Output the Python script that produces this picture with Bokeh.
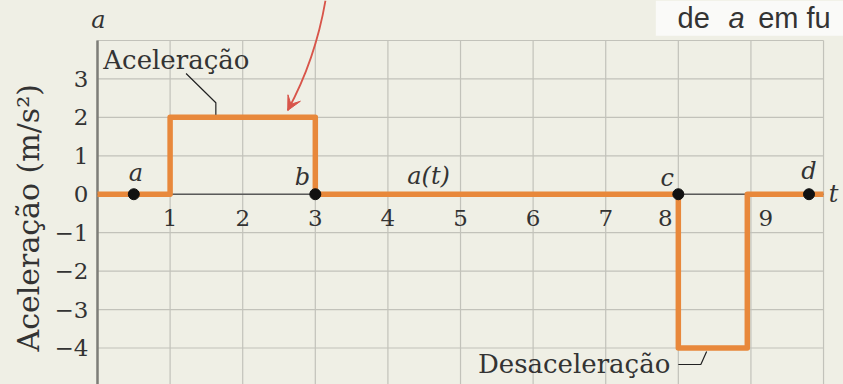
from bokeh.plotting import figure
from bokeh.models import Range1d, FixedTicker, Arrow, VeeHead
from bokeh.core.properties import value
from bokeh.embed import file_html
from bokeh.resources import INLINE

# ---------------- data ----------------
t_values = [0, 1, 1, 3, 3, 8, 8, 8.95, 8.95, 10]
a_values = [0, 0, 2, 2, 0, 0, -4, -4, 0, 0]

point_names = ["a", "b", "c", "d"]
point_t = [0.5, 3, 8, 9.8]
point_a = [0, 0, 0, 0]

t_ticks = [1, 2, 3, 4, 5, 6, 7, 8, 9]
t_tick_labels = ["1", "2", "3", "4", "5", "6", "7", "8", "9"]
a_ticks = [-4, -3, -2, -1, 0, 1, 2, 3]
a_tick_labels = ["\u22124", "\u22123", "\u22122", "\u22121", "0", "1", "2", "3"]

t_grid = list(range(0, 11))
a_grid = list(range(-4, 5))

# ---------------- style ----------------
BG = "#efefe5"
GRID = "#c2c2ba"
ORANGE = "#e8883b"
RED = "#d8554a"
INK = "#333333"
SERIF = value("DejaVu Serif")
SANS = value("Liberation Sans")

p = figure(width=843, height=384, output_backend="svg", toolbar_location=None,
           x_range=Range1d(-0.0964, 10.275), y_range=Range1d(-4.95, 5.04),
           min_border_left=90, min_border_right=0, min_border_top=0, min_border_bottom=0,
           x_axis_location=None, background_fill_color=BG, border_fill_color=BG,
           outline_line_color=None,
           title="Aceleração (m/s²)", title_location="left")
p.grid.visible = False

# rotated y-axis title
p.title.text_font = "DejaVu Serif"
p.title.text_font_size = "30px"
p.title.text_font_style = "normal"
p.title.text_color = INK
p.title.align = "left"
p.title.offset = 33
p.title.standoff = 12

yax = p.yaxis[0]
yax.ticker = FixedTicker(ticks=a_ticks)
yax.major_label_overrides = dict(zip(a_ticks, a_tick_labels))
yax.axis_line_color = None
yax.major_tick_line_color = None
yax.minor_tick_line_color = None
yax.major_tick_out = 0
yax.major_label_standoff = 2
yax.major_label_text_font = "DejaVu Serif"
yax.major_label_text_font_size = "23px"
yax.major_label_text_color = INK

# grid
p.segment(x0=t_grid, y0=[-4.95] * len(t_grid), x1=t_grid, y1=[4] * len(t_grid),
          line_color=GRID, line_width=1.2)
p.segment(x0=[0] * len(a_grid), y0=a_grid, x1=[10] * len(a_grid), y1=a_grid,
          line_color=GRID, line_width=1.2)
# vertical axis line at t = 0 and zero line a = 0
p.segment(x0=[0], y0=[-4.95], x1=[0], y1=[4], line_color="#7d7d78", line_width=2.5)
p.segment(x0=[0], y0=[0], x1=[10], y1=[0], line_color="#5a5a5a", line_width=1.5)

# a(t) curve
p.line(t_values, a_values, line_color=ORANGE, line_width=5.5, line_join="round")

# points
p.scatter(point_t, point_a, size=11, color="#111111")
p.text(x=point_t, y=point_a, text=point_names, x_offset=[2, -13, -11, 0], y_offset=[-21, -17, -16, -23],
       text_font=SERIF, text_font_style="italic", text_font_size="24px", text_color=INK,
       text_align="center", text_baseline="middle")
p.text(x=[4.56], y=[0], text=["a(t)"], y_offset=[-18],
       text_font=SERIF, text_font_style="italic", text_font_size="24px", text_color=INK,
       text_align="center", text_baseline="middle")

# x tick labels on the zero line
p.text(x=t_ticks, y=[0] * len(t_ticks), text=t_tick_labels,
       x_offset=[0, 0, 0, 0, 0, 0, 0, -13, 15], y_offset=[24] * len(t_ticks),
       text_font=SERIF, text_font_size="23px", text_color=INK,
       text_align="center", text_baseline="middle")

# axis symbols
p.text(x=[0], y=[4], text=["a"], x_offset=[1], y_offset=[-20],
       text_font=SERIF, text_font_style="italic", text_font_size="24px", text_color=INK,
       text_align="center", text_baseline="middle")
p.text(x=[10], y=[0], text=["t"], x_offset=[10], y_offset=[0],
       text_font=SERIF, text_font_style="italic", text_font_size="24px", text_color=INK,
       text_align="center", text_baseline="middle")

# callouts
p.text(x=[0.08], y=[3.49], text=["Aceleração"], text_font=SERIF, text_font_size="26px",
       text_color=INK, text_align="left", text_baseline="middle")
p.line([1.22, 1.63, 1.63], [3.14, 2.38, 2.07], line_color="#222222", line_width=1.2)
p.text(x=[7.89], y=[-4.42], text=["Desaceleração"], text_font=SERIF, text_font_size="26px",
       text_color=INK, text_align="right", text_baseline="middle")
p.line([8.0, 8.31, 8.39], [-4.43, -4.43, -4.09], line_color="#222222", line_width=1.2)

# red arrow
p.quadratic(x0=[3.14], y0=[5.04], x1=[2.62], y1=[2.18], cx=[3.0], cy=[3.5],
            line_color=RED, line_width=1.8)
p.add_layout(Arrow(x_start=2.675, y_start=2.38, x_end=2.62, y_end=2.18,
                   line_color=RED, line_width=1.8,
                   end=VeeHead(size=14, fill_color=RED, line_color=RED)))

# caption fragment (top right)
p.quad(left=[7.69], right=[10.275], bottom=[4.12], top=[5.04],
       fill_color="#fafaf8", line_color=None)
p.text(x=[7.99], y=[4.58], text=["de"], text_font=SANS, text_font_size="29px",
       text_color=INK, text_align="left", text_baseline="middle")
p.text(x=[8.69], y=[4.58], text=["a"], text_font=SANS, text_font_style="italic",
       text_font_size="29px", text_color=INK, text_align="left", text_baseline="middle")
p.text(x=[9.10], y=[4.58], text=["em fu"], text_font=SANS, text_font_size="29px",
       text_color=INK, text_align="left", text_baseline="middle")

html = file_html(p, INLINE)
html = html.replace("<head>", "<head><style>body{background:%s;}</style>" % BG, 1)
open("out.html", "w").write(html)
